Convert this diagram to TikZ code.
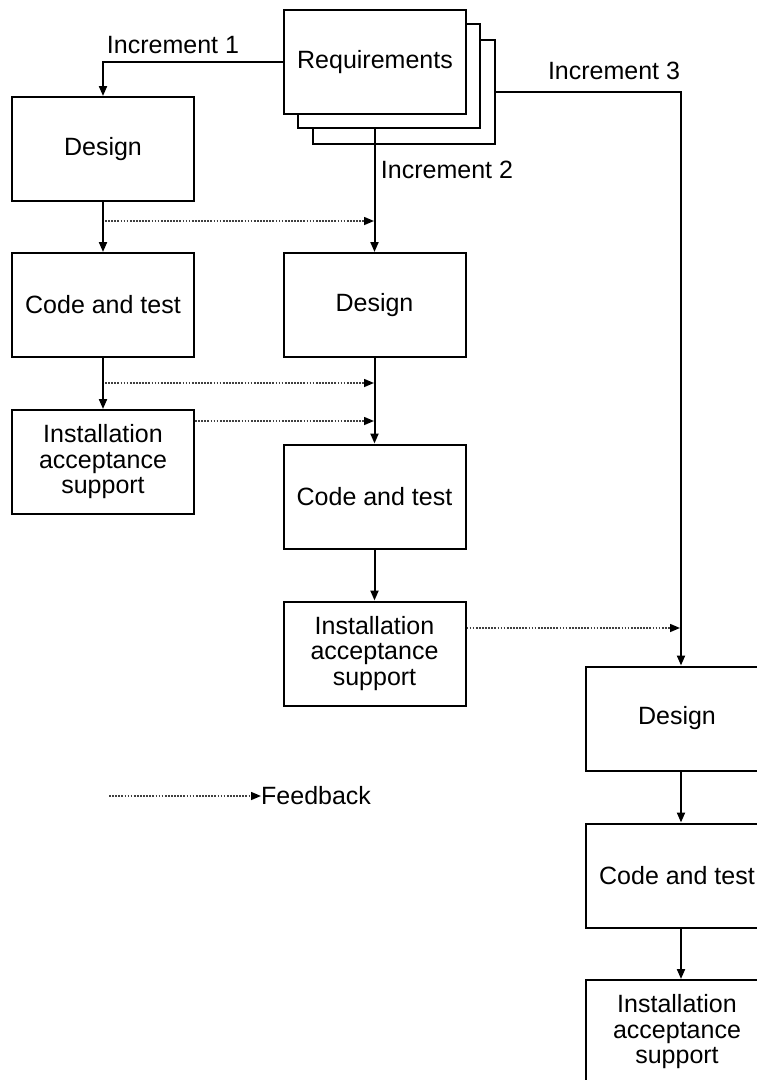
\documentclass[tikz,border=0pt]{standalone}
\usepackage{fontspec}
\setmainfont{Liberation Sans}
\usetikzlibrary{arrows.meta}
\begin{document}
\begin{tikzpicture}[x=1pt,y=-1pt,
  box/.style={draw,line width=2pt,fill=white,minimum width=182pt,minimum height=104pt,inner sep=0pt,align=center,font=\fontsize{25}{25.5}\selectfont},
  flow/.style={line width=2pt,-{Triangle[length=10pt,width=8pt]}},
  fback/.style={line width=1.5pt,black!75,dash pattern=on 1.7pt off 1.4pt,-{Triangle[length=10pt,width=8pt,fill=black,color=black]}},
  lbl/.style={font=\fontsize{25}{25.5}\selectfont,inner sep=0pt}]
\useasboundingbox (0,0) rectangle (757,1080);
% Requirements stack
\node[box] (req3) at (404,91.5) {};
\node[box] (req2) at (389,76) {};
\node[box] (req) at (375,62) {Requirements};
% column 1
\node[box] (d1) at (103,149) {Design};
\node[box] (c1) at (103,305) {Code and test};
\node[box] (i1) at (103,462) {Installation\\acceptance\\support};
% column 2
\node[box] (d2) at (374.5,305) {Design};
\node[box] (c2) at (374.5,496.5) {Code and test};
\node[box] (i2) at (374.5,653.5) {Installation\\acceptance\\support};
% column 3
\node[box] (d3) at (677,718.5) {Design};
\node[box] (c3) at (677,875.5) {Code and test};
\node[box] (i3) at (677,1032) {Installation\\acceptance\\support};
% increments
\draw[flow] (req.west) -| (d1.north);
\draw[flow] (d2.north |- req2.south) -- (d2.north);
\coordinate (d3in) at ([xshift=4pt]d3.north);
\draw[flow] (req3.east) -| (d3in);
\node[lbl] (inc1) at (173,45) {Increment 1};
\node[lbl] (inc2) at (447,170) {Increment 2};
\node[lbl] (inc3) at (614,71) {Increment 3};
% column flows
\draw[flow] (d1) -- (c1);
\draw[flow] (c1) -- (i1);
\draw[flow] (d2) -- (c2);
\draw[flow] (c2) -- (i2);
\coordinate (d3out) at ([xshift=4pt]d3.south);
\coordinate (c3in) at ([xshift=4pt]c3.north);
\coordinate (c3out) at ([xshift=4pt]c3.south);
\coordinate (i3in) at ([xshift=4pt]i3.north);
\draw[flow] (d3out) -- (c3in);
\draw[flow] (c3out) -- (i3in);
% feedback
\coordinate (f1s) at (105,221);
\coordinate (f1e) at (374,221);
\coordinate (f2s) at (105,383);
\coordinate (f2e) at (374,383);
\coordinate (f3e) at (374,421);
\coordinate (f4e) at (680,628);
\draw[fback] (f1s) -- (f1e);
\draw[fback] (f2s) -- (f2e);
\draw[fback] (i1.east |- f3e) -- (f3e);
\draw[fback] (i2.east |- f4e) -- (f4e);
% legend
\node[lbl,anchor=west] (fb) at (261,796) {Feedback};
\coordinate (lgs) at (109,796);
\draw[fback] (lgs) -- (fb.west);
\end{tikzpicture}
\end{document}
